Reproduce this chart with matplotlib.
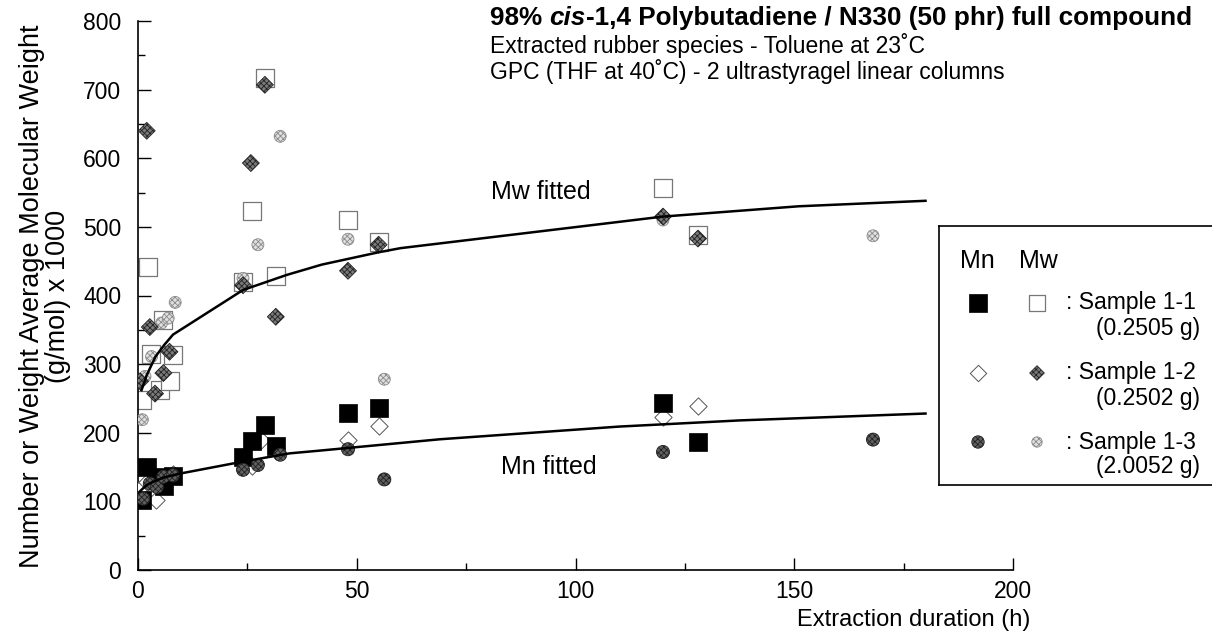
import numpy as np
import matplotlib
matplotlib.use("Agg")
import matplotlib.pyplot as plt
from matplotlib.offsetbox import TextArea, HPacker, AnchoredOffsetbox

plt.rcParams["font.family"] = ["Liberation Sans", "DejaVu Sans"]
plt.rcParams["hatch.linewidth"] = 0.6

# ---- data (hours, g/mol x 1000) ----
mn11_t = [1, 2, 4, 6, 8, 24, 26, 29, 31.5, 48, 55, 120, 128]
mn11_v = [102, 150, 135, 122, 137, 165, 188, 211, 180, 229, 236, 244, 187]

mn12_t = [0.5, 2, 4, 6, 8, 24, 26, 28, 31.5, 48, 55, 120, 128]
mn12_v = [118, 128, 102, 130, 140, 160, 152, 190, 178, 190, 210, 223, 239]

mn13_t = [1.2, 2.7, 4.3, 5.8, 8, 24, 27.4, 32.5, 48, 56.3, 120, 168]
mn13_v = [104, 126, 121, 136, 138, 146, 153, 168, 176, 132, 172, 190]

mw11_t = [0.8, 2.2, 2.9, 5, 5.8, 7.2, 8.1, 24, 26, 29, 31.5, 48, 55, 120, 128]
mw11_v = [247, 442, 315, 262, 365, 275, 313, 420, 523, 717, 428, 510, 478, 556, 488]

mw12_t = [0.5, 2, 2.7, 3.9, 5.8, 7.2, 24, 25.8, 29, 31.5, 48, 55, 120, 128]
mw12_v = [275, 640, 354, 257, 287, 318, 415, 593, 707, 369, 436, 474, 515, 483]

mw13_t = [1, 1.6, 3.1, 5.4, 6.9, 8.5, 24, 27.4, 32.5, 48, 56.3, 120, 168]
mw13_v = [219, 282, 311, 360, 367, 390, 425, 474, 632, 482, 278, 510, 487]

mw_fit_t = [0.8, 2, 4, 6, 8, 24, 34, 42, 55, 60, 120, 151, 180]
mw_fit_v = [262, 284, 311, 328, 343, 408, 430, 445, 463, 469, 515, 530, 538]

mn_fit_t = [0.5, 2, 4, 6, 8, 10, 24, 34.7, 41.6, 69, 110, 137.6, 180]
mn_fit_v = [115, 124, 130, 135, 138, 141, 158, 170, 174, 190.5, 209, 218, 228]

legend_rows = [(": Sample 1-1", "(0.2505 g)"),
               (": Sample 1-2", "(0.2502 g)"),
               (": Sample 1-3", "(2.0052 g)")]

W, H = 1212, 641
FS = 16.5

# marker styles
st_mn11 = dict(marker="s", s=13.0**2, facecolor="black", edgecolor="black", linewidths=0.5)
st_mn12 = dict(marker="D", s=8.8**2, facecolor="white", edgecolor="#555555", linewidths=0.7)
st_mn13 = dict(marker="o", s=9.4**2, facecolor="#606060", edgecolor="#222222", hatch="xxxxxx", linewidths=0.6)
st_mw11 = dict(marker="s", s=12.5**2, facecolor="white", edgecolor="#777777", linewidths=0.9)
st_mw12 = dict(marker="D", s=8.6**2, facecolor="#7a7a7a", edgecolor="#222222", hatch="xxxxxx", linewidths=0.6)
st_mw13 = dict(marker="o", s=8.6**2, facecolor="#e0e0e0", edgecolor="#8a8a8a", hatch="xxxxxx", linewidths=0.6)

fig = plt.figure(figsize=(W / 100, H / 100), dpi=100)
ax_l, ax_r, ax_b, ax_t = 138, 1013, 570, 21
ax = fig.add_axes([ax_l / W, 1 - ax_b / H, (ax_r - ax_l) / W, (ax_b - ax_t) / H])


def px(x, y):
    # figure pixel position (from top-left) -> axes fraction
    return (x - ax_l) / (ax_r - ax_l), (ax_b - y) / (ax_b - ax_t)


ax.scatter(mw11_t, mw11_v, zorder=2, **st_mw11)
ax.scatter(mn12_t, mn12_v, zorder=3, **st_mn12)
ax.scatter(mw13_t, mw13_v, zorder=4, **st_mw13)
ax.scatter(mw12_t, mw12_v, zorder=5, **st_mw12)
ax.scatter(mn11_t, mn11_v, zorder=6, **st_mn11)
ax.scatter(mn13_t, mn13_v, zorder=7, **st_mn13)

ax.plot(mw_fit_t, mw_fit_v, color="black", lw=1.8, zorder=8)
ax.plot(mn_fit_t, mn_fit_v, color="black", lw=1.8, zorder=8)

ax.text(*px(541, 192), "Mw fitted", transform=ax.transAxes,
        ha="center", va="center", fontsize=FS + 1.5)
ax.text(*px(549, 467), "Mn fitted", transform=ax.transAxes,
        ha="center", va="center", fontsize=FS + 1.5)

ax.set_xlim(0, 200)
ax.set_ylim(0, 800)
ax.set_xticks([0, 50, 100, 150, 200])
ax.set_xticks([25, 75, 125, 175], minor=True)
ax.set_yticks(range(0, 801, 100))
ax.set_yticks(range(50, 800, 100), minor=True)
ax.tick_params(which="both", direction="in", labelsize=FS, width=1)
ax.tick_params(which="major", length=9)
ax.tick_params(which="minor", length=5)
ax.tick_params(axis="x", pad=7)
ax.tick_params(axis="y", pad=12)
for side in ("top", "right"):
    ax.spines[side].set_visible(False)
for side in ("left", "bottom"):
    ax.spines[side].set_linewidth(1.2)

ax.set_xlabel("Extraction duration (h)", fontsize=FS + 0.5, ha="right")
ax.xaxis.set_label_coords(*px(1030, 620))
ax.xaxis.label.set_va("center")
ax.set_ylabel("Number or Weight Average Molecular Weight\n(g/mol) x 1000",
              fontsize=19.5, linespacing=1.0, va="center")
ax.yaxis.set_label_coords(*px(45, 296))

# header text
hfs = 18.8
part1 = TextArea("98% ", textprops=dict(fontsize=hfs, fontweight="bold"))
part2 = TextArea("cis", textprops=dict(fontsize=hfs, fontweight="bold", fontstyle="italic"))
part3 = TextArea("-1,4 Polybutadiene / N330 (50 phr) full compound",
                 textprops=dict(fontsize=hfs, fontweight="bold"))
head = HPacker(children=[part1, part2, part3], pad=0, sep=0, align="baseline")
anch = AnchoredOffsetbox(loc="upper left", child=head, pad=0, borderpad=0, frameon=False,
                         bbox_to_anchor=(490 / W, 1 - 6 / H), bbox_transform=fig.transFigure)
ax.add_artist(anch)
fig.text(490 / W, 1 - 46 / H, "Extracted rubber species - Toluene at 23\u02daC",
         fontsize=FS, va="center", ha="left")
fig.text(490 / W, 1 - 71 / H, "GPC (THF at 40\u02daC) - 2 ultrastyragel linear columns",
         fontsize=FS, va="center", ha="left")

# legend box drawn in pixel coordinates
lg = fig.add_axes([939 / W, 1 - 485 / H, (W + 4 - 939) / W, (485 - 226) / H])
lg.set_xlim(939, W + 4)
lg.set_ylim(485, 226)
lg.set_xticks([])
lg.set_yticks([])
lg.spines["right"].set_visible(False)
for side in ("left", "top", "bottom"):
    lg.spines[side].set_linewidth(1.2)
lg.text(977, 261, "Mn", ha="center", va="center", fontsize=FS + 1.5)
lg.text(1038, 261, "Mw", ha="center", va="center", fontsize=FS + 1.5)
row_y = [303, 373, 442]
keys = [(st_mn11, st_mw11), (st_mn12, st_mw12), (st_mn13, st_mw13)]
for (lab, mass), y, (kn, kw) in zip(legend_rows, row_y, keys):
    kn = dict(kn); kw = dict(kw)
    kn["s"] = kn["s"] * 0.9
    kw["s"] = kw["s"] * 0.75
    lg.scatter([978], [y], **kn)
    lg.scatter([1037], [y], **kw)
    lg.text(1066, y, lab, ha="left", va="center", fontsize=FS)
    lg.text(1200, y + 25, mass, ha="right", va="center", fontsize=FS)

fig.savefig("out.png", dpi=100)
